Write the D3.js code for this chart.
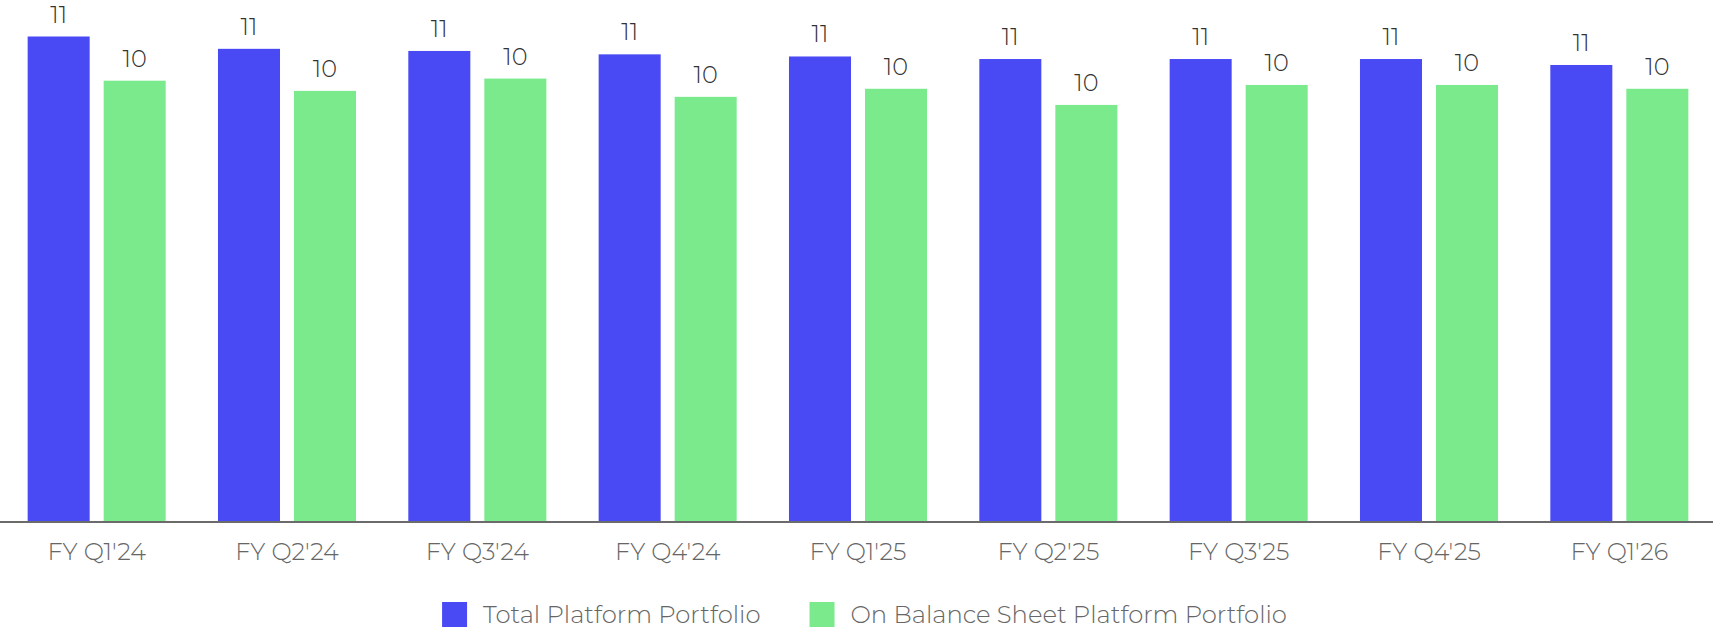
<!DOCTYPE html>
<html>
<head>
<meta charset="utf-8">
<script src="https://cdn.jsdelivr.net/npm/d3@7"></script>
<style>
  html, body { margin: 0; padding: 0; background: #fff; }
  svg { display: block; font-family: "Montserrat", "Open Sans", sans-serif; }
</style>
</head>
<body>
<svg id="chart" width="1713" height="631"></svg>
<script>
// Quarterly portfolio sizes
const quarters = ["FY Q1'24", "FY Q2'24", "FY Q3'24", "FY Q4'24", "FY Q1'25", "FY Q2'25", "FY Q3'25", "FY Q4'25", "FY Q1'26"];
const seriesNames = ["Total Platform Portfolio", "On Balance Sheet Platform Portfolio"];
const totalPlatform = [11.40, 11.11, 11.06, 10.98, 10.93, 10.87, 10.87, 10.87, 10.73];
const onBalanceSheet = [10.36, 10.12, 10.41, 9.98, 10.17, 9.79, 10.26, 10.26, 10.17];
const seriesColors = ["#4a4af5", "#7aea8c"];

const width = 1713, height = 631;
const baseY = 521, topY = 36.5;

const svg = d3.select("#chart");

const rows = quarters.map((q, i) => ({ quarter: q, values: [totalPlatform[i], onBalanceSheet[i]] }));

const x0 = d3.scaleBand().domain(quarters).range([1.5, width + 1.5]).padding(0);
const x1 = d3.scaleBand().domain(seriesNames).range([0, x0.bandwidth()])
  .paddingInner(0.184).paddingOuter(0.344);
const y = d3.scaleLinear().domain([0, d3.max(totalPlatform.concat(onBalanceSheet))]).range([baseY, topY]);
const color = d3.scaleOrdinal().domain(seriesNames).range(seriesColors);
const fmt = d3.format(".0f");

const groups = svg.append("g").selectAll("g")
  .data(rows).join("g")
  .attr("transform", d => `translate(${x0(d.quarter)},0)`);

const cells = groups.selectAll("g")
  .data(d => d.values.map((v, k) => ({ name: seriesNames[k], value: v })))
  .join("g");

cells.append("rect")
  .attr("x", d => x1(d.name))
  .attr("y", d => y(d.value))
  .attr("width", x1.bandwidth())
  .attr("height", d => y(0) - y(d.value))
  .attr("fill", d => color(d.name));

cells.append("text")
  .attr("x", d => x1(d.name) + x1.bandwidth() / 2)
  .attr("y", d => y(d.value) - 14)
  .attr("text-anchor", "middle")
  .attr("font-size", 24)
  .attr("font-weight", 300)
  .attr("fill", "#333")
  .text(d => fmt(d.value));

// Category axis
const xAxis = d3.axisBottom(x0).tickSize(0).tickPadding(0);
const axisG = svg.append("g").attr("transform", `translate(0,${baseY + 1})`).call(xAxis);
axisG.select(".domain").remove();
axisG.selectAll("text")
  .attr("dy", null)
  .attr("y", 38)
  .attr("font-size", 24)
  .attr("font-weight", 300)
  .attr("font-family", "\"Montserrat\", \"Open Sans\", sans-serif")
  .attr("fill", "#666");
svg.append("line")
  .attr("x1", 0).attr("x2", width)
  .attr("y1", baseY + 1).attr("y2", baseY + 1)
  .attr("stroke", "#6b6b6b").attr("stroke-width", 2);

// Legend
const legend = svg.append("g");
const items = legend.selectAll("g").data(seriesNames).join("g");
items.append("rect")
  .attr("width", 25).attr("height", 25).attr("y", 602)
  .attr("fill", d => color(d));
items.append("text")
  .attr("x", 41).attr("y", 623)
  .attr("font-size", 24.3)
  .attr("font-weight", 300)
  .attr("fill", "#666")
  .text(d => d);
const widths = items.nodes().map(n => n.getBBox().width);
const gap = 49;
const total = d3.sum(widths) + gap * (widths.length - 1);
let cursor = (width - total) / 2 + 8;
items.attr("transform", (d, i) => {
  const t = `translate(${cursor},0)`;
  cursor += widths[i] + gap;
  return t;
});
</script>
</body>
</html>
